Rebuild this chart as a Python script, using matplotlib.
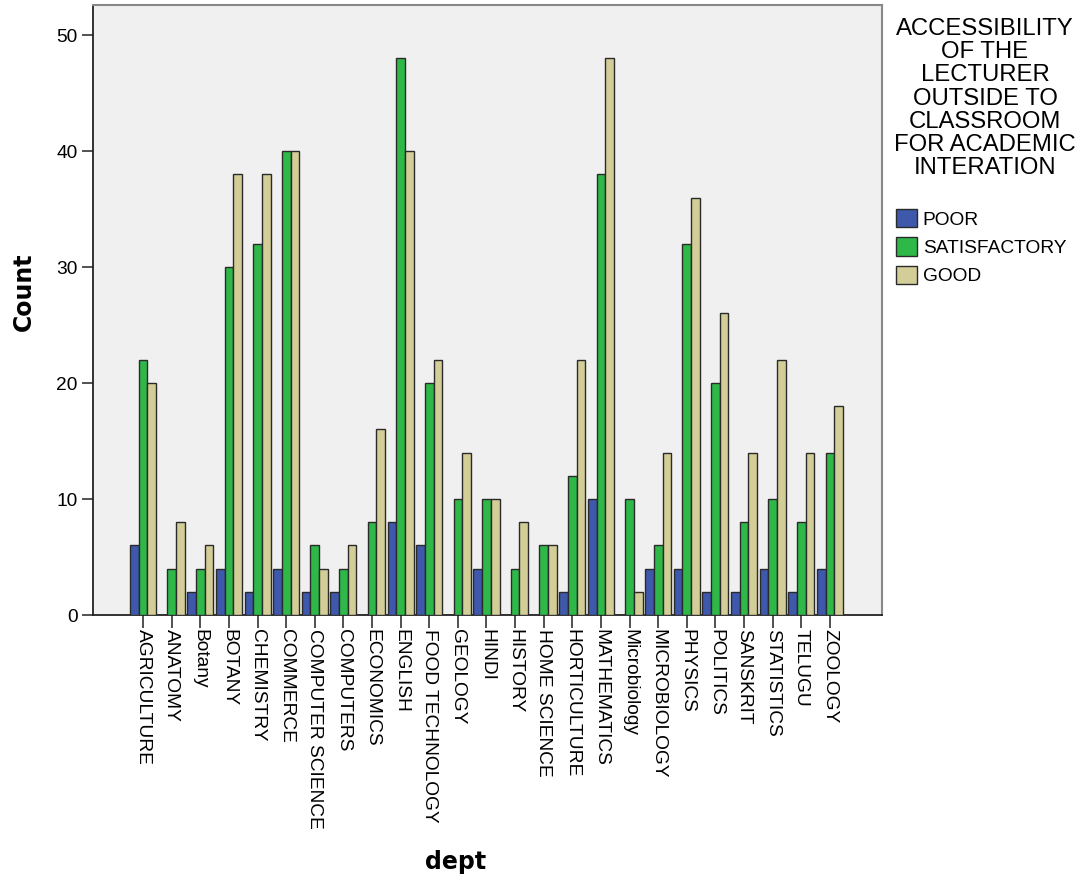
import matplotlib
matplotlib.use("Agg")
import matplotlib.pyplot as plt
import numpy as np
from matplotlib.patches import Patch

depts = ["AGRICULTURE", "ANATOMY", "Botany", "BOTANY", "CHEMISTRY", "COMMERCE",
         "COMPUTER SCIENCE", "COMPUTERS", "ECONOMICS", "ENGLISH", "FOOD TECHNOLOGY",
         "GEOLOGY", "HINDI", "HISTORY", "HOME SCIENCE", "HORTICULTURE", "MATHEMATICS",
         "Microbiology", "MICROBIOLOGY", "PHYSICS", "POLITICS", "SANSKRIT",
         "STATISTICS", "TELUGU", "ZOOLOGY"]
poor = [6, 0, 2, 4, 2, 4, 2, 2, 0, 8, 6, 0, 4, 0, 0, 2, 10, 0, 4, 4, 2, 2, 4, 2, 4]
satisfactory = [22, 4, 4, 30, 32, 40, 6, 4, 8, 48, 20, 10, 10, 4, 6, 12, 38, 10, 6, 32, 20, 8, 10, 8, 14]
good = [20, 8, 6, 38, 38, 40, 4, 6, 16, 40, 22, 14, 10, 8, 6, 22, 48, 2, 14, 36, 26, 14, 22, 14, 18]
series_names = ["POOR", "SATISFACTORY", "GOOD"]
colors = ["#3E58AC", "#2EB848", "#D3CE97"]
yticks = [0, 10, 20, 30, 40, 50]

plt.rcParams['font.family'] = ['Liberation Sans', 'DejaVu Sans']

fig = plt.figure(figsize=(10.89, 8.86), dpi=100)
ax = fig.add_axes([93/1089, (886-615)/886, (882-93)/1089, (615-5)/886])
ax.set_facecolor("#F0F0F0")

x = np.arange(len(depts))
w = 0.304
for i, (vals, c) in enumerate(zip([poor, satisfactory, good], colors)):
    ax.bar(x + (i - 1) * w, vals, width=w, color=c, edgecolor="#2a2a2a", linewidth=1.0, zorder=3)

ax.set_xlim(-1.75, 25.82)
ax.set_ylim(0, 52.6)
ax.set_yticks(yticks)
ax.set_yticklabels([str(t) for t in yticks], fontsize=13.8)
ax.set_xticks(x)
ax.set_xticklabels(depts, rotation=-90, fontsize=13.8, va="top", ha="center")
ax.tick_params(axis="y", length=8, width=1.2, pad=3, color="#333333")
ax.tick_params(axis="x", length=9, width=1.2, pad=1, color="#333333")

for s in ["top", "right"]:
    ax.spines[s].set_color("#888888")
    ax.spines[s].set_linewidth(1.5)
for s in ["left", "bottom"]:
    ax.spines[s].set_color("#222222")
    ax.spines[s].set_linewidth(1.3)

ax.set_ylabel("Count", fontsize=17, fontweight="bold", family="DejaVu Sans")
ax.set_xlabel("dept", fontsize=17, fontweight="bold", family="DejaVu Sans")
ax.yaxis.set_label_coords(-0.073, 0.53)
ax.xaxis.set_label_coords(0.46, -0.385)

fig.text(985/1089, 1 - 18/886,
         "ACCESSIBILITY\nOF THE\nLECTURER\nOUTSIDE TO\nCLASSROOM\nFOR ACADEMIC\nINTERATION",
         ha="center", va="top", fontsize=17.2, linespacing=1.07, multialignment="center")

handles = [Patch(facecolor=c, edgecolor="#2a2a2a", linewidth=1.0) for c in colors]
fig.legend(handles, series_names, loc="upper left",
           bbox_to_anchor=(896/1089, 1 - 209/886), frameon=False,
           fontsize=13.8, handlelength=1.1, handleheight=1.1, handletextpad=0.3,
           labelspacing=0.45, borderpad=0, borderaxespad=0)

fig.savefig("out.png", dpi=100)
